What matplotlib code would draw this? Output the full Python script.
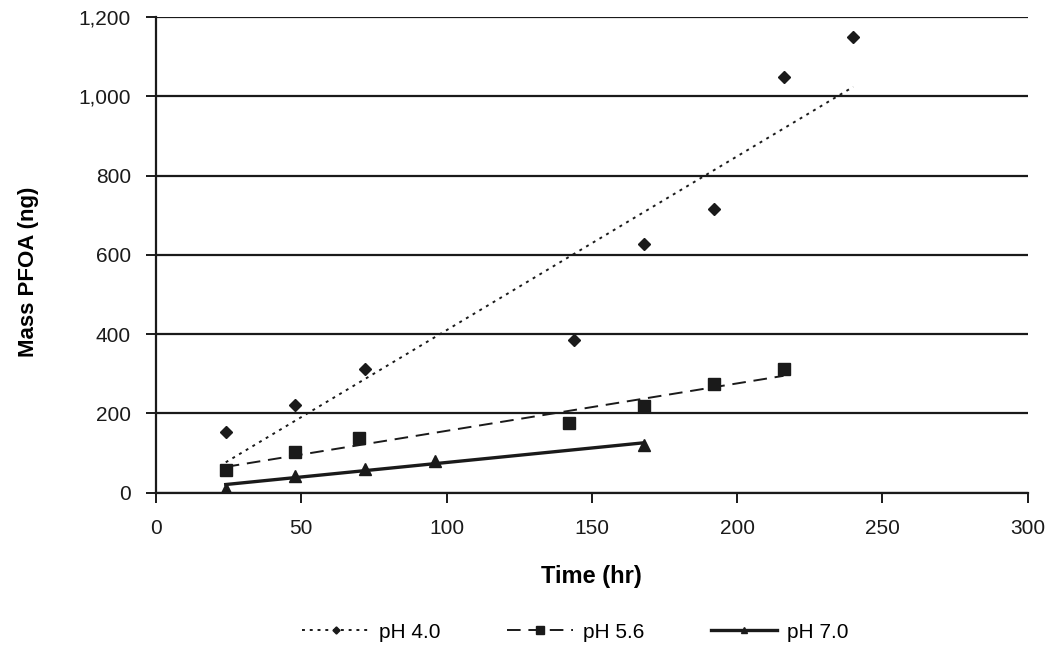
import matplotlib
matplotlib.use("Agg")
import matplotlib.pyplot as plt
from matplotlib.lines import Line2D
from matplotlib.ticker import FuncFormatter
import numpy as np

plt.rcParams["font.family"] = ["Liberation Sans", "DejaVu Sans"]

INK = "#1a1a1a"

# data
ph40_t = [24, 48, 72, 144, 168, 192, 216, 240]
ph40_mass = [154, 222, 311, 386, 627, 715, 1048, 1150]

ph56_t = [24, 48, 70, 142, 168, 192, 216]
ph56_mass = [58, 103, 139, 177, 220, 275, 313]

ph70_t = [24, 48, 72, 96, 168]
ph70_mass = [10, 43, 61, 81, 120]

series = [
    ("pH 4.0", ph40_t, ph40_mass, "D", 6, (0, (1.5, 2.5)), 1.4),
    ("pH 5.6", ph56_t, ph56_mass, "s", 9, (0, (7, 4)), 1.4),
    ("pH 7.0", ph70_t, ph70_mass, "^", 8, "-", 2.4),
]

fig = plt.figure(figsize=(10.5, 6.51), dpi=100)
ax = fig.add_axes([0.1486, 0.243, 0.830, 0.731])

handles = []
for name, t, m, marker, ms, ls, lw in series:
    t = np.array(t, dtype=float)
    m = np.array(m, dtype=float)
    ax.plot(t, m, linestyle="none", marker=marker, markersize=ms,
            color=INK, zorder=3)
    # linear trendline over the data range
    k, b = np.polyfit(t, m, 1)
    xs = np.array([t.min(), t.max()])
    ax.plot(xs, k * xs + b, linestyle=ls, linewidth=lw, color=INK, zorder=2)
    handles.append(Line2D([], [], color=INK, linestyle=ls, linewidth=lw,
                          marker=marker, markersize=ms * 0.6, label=name))

ax.set_xlim(0, 300)
ax.set_ylim(0, 1200)
ax.set_xticks(range(0, 301, 50))
ax.set_yticks(range(0, 1201, 200))
ax.yaxis.set_major_formatter(FuncFormatter(lambda v, p: f"{int(v):,}"))

ax.yaxis.grid(True, color=INK, linewidth=1.6)
ax.set_axisbelow(True)
for s in ("top", "right"):
    ax.spines[s].set_visible(False)
for s in ("left", "bottom"):
    ax.spines[s].set_color(INK)
    ax.spines[s].set_linewidth(1.6)

ax.tick_params(axis="both", direction="out", length=7, width=1.4,
               color=INK, labelsize=15, labelcolor=INK)
ax.tick_params(axis="y", pad=11)
ax.tick_params(axis="x", pad=12)

ax.set_xlabel("Time (hr)", fontsize=17, fontweight="bold")
ax.xaxis.set_label_coords(0.5, -0.176)
ax.xaxis.label.set_va("center")
ax.set_ylabel("Mass PFOA (ng)", fontsize=16, fontweight="bold")
ax.yaxis.set_label_coords(-0.146, 0.464)
ax.yaxis.label.set_va("center")

fig.legend(handles=handles, loc="center", bbox_to_anchor=(0.548, 0.029),
           ncol=3, frameon=False, fontsize=15, handlelength=3.2,
           columnspacing=3.2, handletextpad=0.45, numpoints=1)

fig.savefig("out.png", dpi=100)
